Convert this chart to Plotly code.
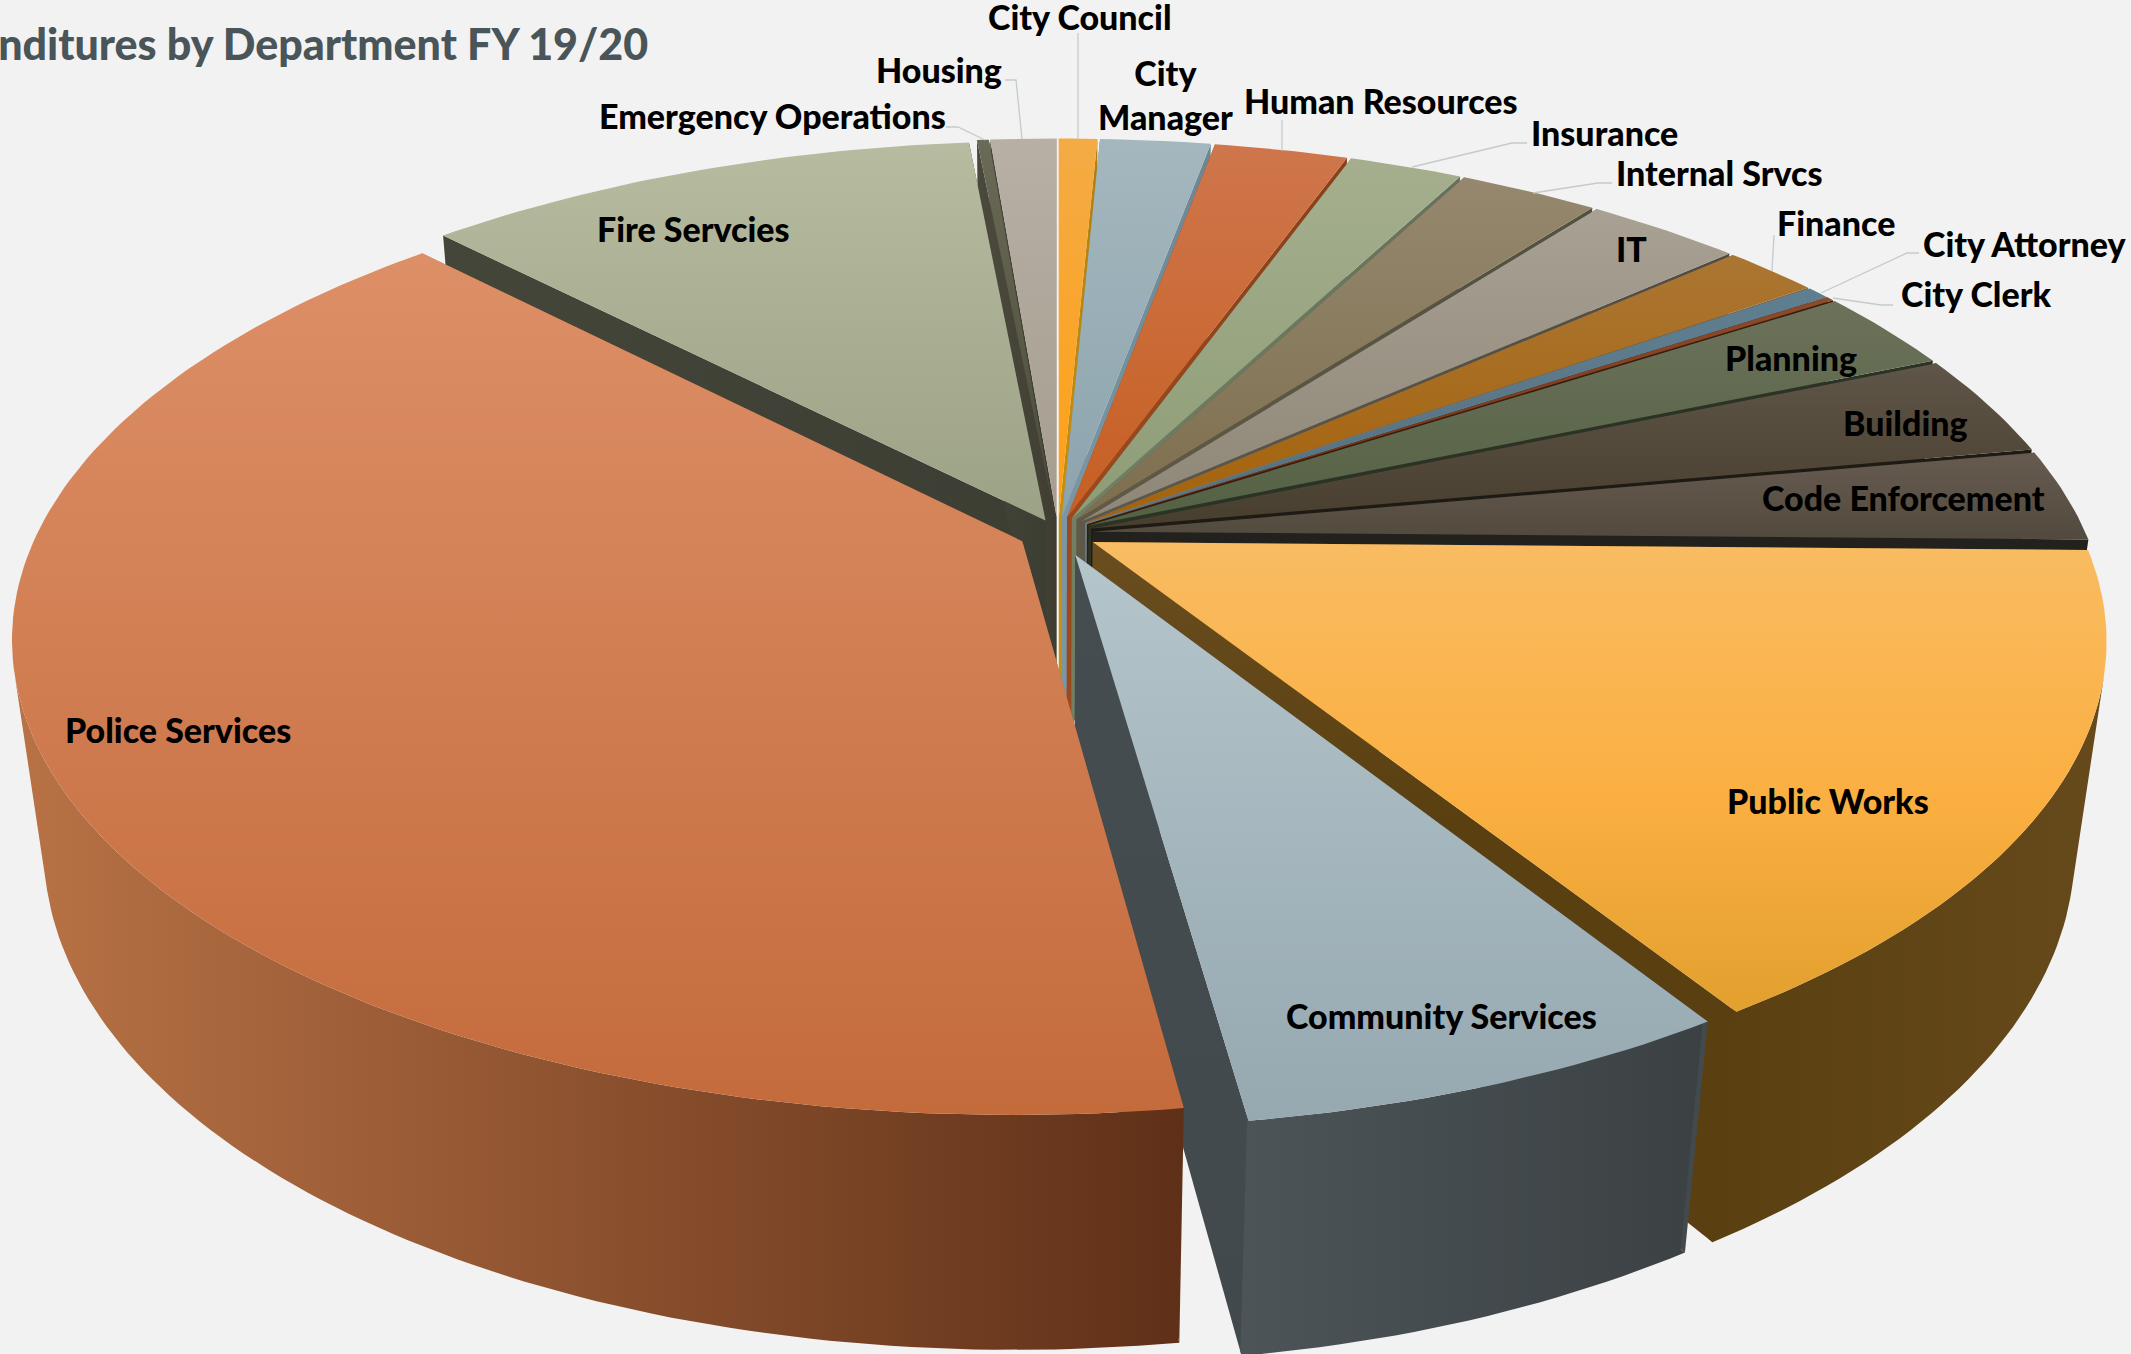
import math
import plotly.graph_objects as go

# Share of the general fund by department, clockwise from twelve o'clock
departments = ["City Council", "City Manager", "Human Resources", "Insurance", "Internal Srvcs", "IT",
               "Finance", "City Attorney", "City Clerk", "Planning", "Building", "Code Enforcement",
               "Public Works", "Community Services", "Police Services", "Fire Servcies",
               "Emergency Operations", "Housing"]
shares = [0.75, 2.15, 2.6, 2.2, 2.7, 3.0, 1.85, 0.45, 0.15, 2.8, 3.5, 3.12,
          15.78, 6.74, 39.90, 10.79, 0.23, 1.29]

# Face shading, listed top of the face to bottom of the face
face_top = ["#F4AB45", "#A5B7BE", "#CF764C", "#A5AF8E", "#95886E", "#A8A194", "#AB7633", "#5F7F90", "#8C4C2C",
            "#6C725A", "#5F5548", "#675B50", "#F9BC62", "#B4C5CB", "#DD8F67", "#B7BBA0", "#6A6A56", "#B8AFA5"]
face_bottom = ["#FFA014", "#8CA4AE", "#C65F22", "#8D9C76", "#7D6E4E", "#8E8676", "#A5620A", "#557080", "#6E2E10",
               "#546144", "#483E2E", "#524A3E", "#E2A02E", "#96A8B0", "#C46B3C", "#9CA285", "#4A4A3A", "#A69D90"]
wall_left = ["#C8900F", "#7B97A5", "#9B4A1E", "#737F63", "#5F5A46", "#5E574B", "#7A7466", "#6B8A9A", "#3A1A08",
             "#2A3424", "#1E1A14", "#23211D", "#5A3F10", "#4C5458", "#B87245", "#44463A", "#4B493C", "#47443A"]
wall_right = ["#B07F0C", "#6B8795", "#8A4018", "#65715A", "#52503E", "#524C42", "#6A6458", "#5F7F90", "#3A1A08",
              "#2A3424", "#1E1A14", "#23211D", "#664A1B", "#3B4143", "#5F3018", "#3C3E33", "#403E32", "#3E3B32"]
# Extra shading stop for the bright middle of the largest orange face
face_mid = {"Public Works": "#FBAF41"}
# Radial faces of the front slices, shaded from the top of the face downward
radial_tone = {
    "Public Works": [[0, "#6A4E20"], [0.4, "#5A3F10"], [1, "#5A3F10"]],
    "Community Services": [[0, "#454D50"], [1, "#42494C"]],
}

# How far each slice is pulled out of the pie, and its radius, in units of the pie radius
pull = {"Public Works": 0.04, "Community Services": 0.05, "Police Services": 0.04, "Fire Servcies": 0.03}
default_pull = 0.035
radius = {"Community Services": 0.98, "Police Services": 0.992, "Public Works": 0.995}

# Perspective camera
CX, CY = 1058.0, 533.0
R_X, R_Y = 993.0, 460.0
TILT, DEPTH = 0.2, 0.03
THICK = 212.0


def project(px, py, pz):
    w = 1.0 - TILT * py + DEPTH * pz
    return CX + R_X * px / w, CY + (R_Y * py + THICK * pz) / w


total = sum(shares)
spans = []
running = 0.0
for s in shares:
    a0 = running / total * 360.0
    running += s
    spans.append((a0, running / total * 360.0))


def wedge_geometry(i):
    a0, a1 = spans[i]
    mid = math.radians((a0 + a1) / 2)
    e = pull.get(departments[i], default_pull)
    r = radius.get(departments[i], 1.0)
    ox, oy = e * math.sin(mid), -e * math.cos(mid)
    n = max(2, int((a1 - a0) / 1.0) + 1)
    rim = []
    for k in range(n + 1):
        t = math.radians(a0 + (a1 - a0) * k / n)
        rim.append((ox + r * math.sin(t), oy - r * math.cos(t)))
    return (ox, oy), rim


def polygon_trace(points, stops, direction):
    xs = [p[0] for p in points]
    ys = [p[1] for p in points]
    if direction == "vertical":
        lo, hi = min(ys), max(ys)
    else:
        lo, hi = min(xs), max(xs)
    return go.Scatter(
        x=xs + xs[:1], y=ys + ys[:1], mode="lines", line=dict(width=0), fill="toself",
        fillgradient=dict(type=direction, start=lo, stop=hi, colorscale=stops),
        hoverinfo="skip", showlegend=False)


def radial_traces(i):
    apex, rim = wedge_geometry(i)
    name = departments[i]
    out = []
    for end in (rim[0], rim[-1]):
        pts = [project(apex[0], apex[1], 0), project(end[0], end[1], 0),
               project(end[0], end[1], 1), project(apex[0], apex[1], 1)]
        if name in radial_tone:
            out.append(polygon_trace(pts, radial_tone[name], "vertical"))
        else:
            out.append(polygon_trace(pts, [[0, wall_left[i]], [1, wall_right[i]]], "horizontal"))
    return out


def outer_trace(i):
    # Only the stretch of the curved wall that faces the camera is drawn
    apex, rim = wedge_geometry(i)
    tops = [project(p[0], p[1], 0) for p in rim]
    bottoms = [project(p[0], p[1], 1) for p in rim]
    facing = []
    for k in range(len(rim) - 1):
        ex, ey = tops[k + 1][0] - tops[k][0], tops[k + 1][1] - tops[k][1]
        dx, dy = bottoms[k][0] - tops[k][0], bottoms[k][1] - tops[k][1]
        if ex * dy - ey * dx < 0:
            facing.append(k)
    if not facing:
        return []
    a, b = facing[0], facing[-1] + 1

    # A sliver tucked past each cut end closes the hairline against the radial face
    def inward(p, z):
        return project(p[0] + (apex[0] - p[0]) * 0.006, p[1] + (apex[1] - p[1]) * 0.006, z)

    head_top, head_bot, tail_top, tail_bot = [], [], [], []
    if a == 0:
        head_top, head_bot = [inward(rim[0], 0)], [inward(rim[0], 1)]
    if b == len(rim) - 1:
        tail_top, tail_bot = [inward(rim[-1], 0)], [inward(rim[-1], 1)]
    pts = head_top + tops[a:b + 1] + tail_top + tail_bot + bottoms[a:b + 1][::-1] + head_bot
    return [polygon_trace(pts, [[0, wall_left[i]], [1, wall_right[i]]], "horizontal")]


def top_trace(i):
    apex, rim = wedge_geometry(i)
    pts = [project(apex[0], apex[1], 0)] + [project(p[0], p[1], 0) for p in rim]
    name = departments[i]
    if name in face_mid:
        stops = [[0, face_top[i]], [0.55, face_mid[name]], [1, face_bottom[i]]]
    else:
        stops = [[0, face_top[i]], [1, face_bottom[i]]]
    return [polygon_trace(pts, stops, "vertical")]


def mid_depth(i):
    a0, a1 = spans[i]
    return -math.cos(math.radians((a0 + a1) / 2))


idx = {name: k for k, name in enumerate(departments)}
front = ["Public Works", "Community Services", "Police Services"]
back = sorted([k for k, n in enumerate(departments) if n not in front], key=mid_depth)

traces = []
for k in back:
    traces += radial_traces(k) + outer_trace(k) + top_trace(k)
pw, cs, ps = idx["Public Works"], idx["Community Services"], idx["Police Services"]
traces += radial_traces(pw) + outer_trace(pw) + top_trace(pw)
traces += radial_traces(cs)
traces += radial_traces(ps) + outer_trace(ps) + top_trace(ps)
traces += outer_trace(cs) + top_trace(cs)

# Leader lines from outside labels to their slices
leaders = [
    [(1078, 33), (1078, 139)],
    [(1005, 80), (1016, 80), (1022, 139)],
    [(946, 127), (958, 127), (985, 140)],
    [(1282, 120), (1282, 151)],
    [(1527, 143), (1512, 143), (1412, 167)],
    [(1612, 183), (1598, 183), (1533, 193)],
    [(1774, 235), (1772, 271)],
    [(1919, 253), (1907, 253), (1821, 293)],
    [(1893, 305), (1881, 305), (1833, 298)],
]
lx, ly = [], []
for seg in leaders:
    lx += [p[0] for p in seg] + [None]
    ly += [p[1] for p in seg] + [None]
traces.append(go.Scatter(x=lx, y=ly, mode="lines", line=dict(color="#C3CBCB", width=1.3),
                         hoverinfo="skip", showlegend=False))

# Label anchor of each department
label_at = {
    "City Council": (1080, 16), "City Manager": (1165, 94), "Human Resources": (1381, 100),
    "Insurance": (1604, 132), "Internal Srvcs": (1719, 172), "IT": (1631, 248), "Finance": (1836, 222),
    "City Attorney": (2025, 243), "City Clerk": (1976, 293), "Planning": (1791, 357), "Building": (1905, 422),
    "Code Enforcement": (1903, 497), "Public Works": (1828, 800), "Community Services": (1441, 1015),
    "Police Services": (178, 729), "Fire Servcies": (693, 228), "Emergency Operations": (772, 115),
    "Housing": (939, 69),
}
annotations = []
for name, (ax, ay) in label_at.items():
    text = "City<br>Manager" if name == "City Manager" else name
    annotations.append(dict(x=ax, y=ay, text=text, showarrow=False, xanchor="center", yanchor="middle",
                            font=dict(family="Lato", size=34, color="#000000", weight=900)))
annotations.append(dict(x=650, y=43, text="Expenditures by Department FY 19/20", showarrow=False,
                        xanchor="right", yanchor="middle",
                        font=dict(family="Lato", size=43, color="#4A5559", weight=900)))

fig = go.Figure(traces)
fig.update_layout(
    width=2131, height=1354, autosize=False,
    margin=dict(l=0, r=0, t=0, b=0),
    paper_bgcolor="#F2F2F2", plot_bgcolor="#F2F2F2",
    xaxis=dict(range=[0, 2131], visible=False, fixedrange=True),
    yaxis=dict(range=[1354, 0], visible=False, fixedrange=True),
    annotations=annotations,
    showlegend=False,
)
fig.write_html("out.html", config=dict(displayModeBar=False))
